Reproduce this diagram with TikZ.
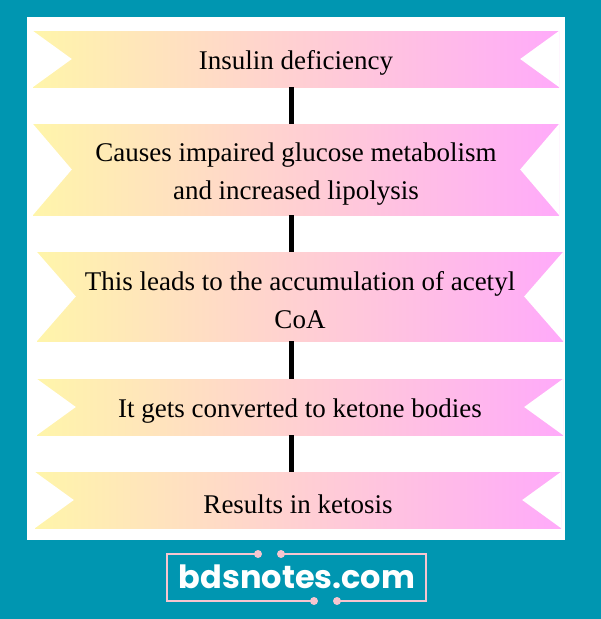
\documentclass[tikz,border=0pt]{standalone}
\usepackage{fontspec}
\setmainfont{Liberation Serif}
\newfontfamily\logofont{Poppins}
\newcommand\liftline{\rule{0pt}{27pt}}
\definecolor{sitebg}{HTML}{0096B1}
\definecolor{ribbonleft}{HTML}{FFF5AA}
\definecolor{ribbonright}{HTML}{FFAAFA}
\definecolor{framepink}{HTML}{F7C5CF}
\begin{document}
\begin{tikzpicture}[
            x=1pt, y=-1pt,
            banner/.style={left color=ribbonleft, right color=ribbonright, draw=none,
              minimum width=526pt, inner sep=0pt, align=center,
              font=\fontsize{27}{38}\selectfont},
            notch/.style={fill=white},
            link/.style={draw=black, line width=5pt},
            frame/.style={draw=framepink, line width=2pt}
            ]
            \useasboundingbox[fill=sitebg] (0,0) rectangle (601,619);
            \fill[white] (27,17) rectangle (565,540);
            \coordinate (spine) at (291,0);
            % the five ribbons
            \node[banner, minimum height=56pt] (deficiency) at (296,59) {\liftline Insulin deficiency};
            \node[banner, minimum height=91pt] (lipolysis) at (296,169.5) {\liftline Causes impaired glucose metabolism\\and increased lipolysis};
            \node[banner, minimum height=89pt] (acetyl) at (300,296.5) {\liftline This leads to the accumulation of acetyl\\CoA};
            \node[banner, minimum height=56pt] (ketone) at (300,407) {\liftline It gets converted to ketone bodies};
            \node[banner, minimum height=56pt] (ketosis) at (298,500) {\liftline Results in ketosis};
            \foreach \n in {deficiency,lipolysis,acetyl,ketone,ketosis} {
              \path[notch] (\n.north west) -- ([xshift=39pt]\n.west) -- (\n.south west) -- cycle;
              \path[notch] (\n.north east) -- ([xshift=-39pt]\n.east) -- (\n.south east) -- cycle;
            }
            \draw[link] (deficiency.south -| spine) -- (lipolysis.north -| spine);
            \draw[link] (lipolysis.south -| spine) -- (acetyl.north -| spine);
            \draw[link] (acetyl.south -| spine) -- (ketone.north -| spine);
            \draw[link] (ketone.south -| spine) -- (ketosis.north -| spine);
            % logo
            \node[text=white, inner sep=0pt, font=\logofont\bfseries\fontsize{32}{32}\selectfont] (logo) at (297,577) {bdsnotes.com};
            \draw[frame] (258,554) -| (167,601) -- (314,601);
            \draw[frame] (281,554) -| (426,601) -- (337,601);
            \foreach \x/\y in {258/554, 281/554, 314/601, 337/601}
              \fill[framepink] (\x,\y) circle[radius=4pt];
\end{tikzpicture}
\end{document}
